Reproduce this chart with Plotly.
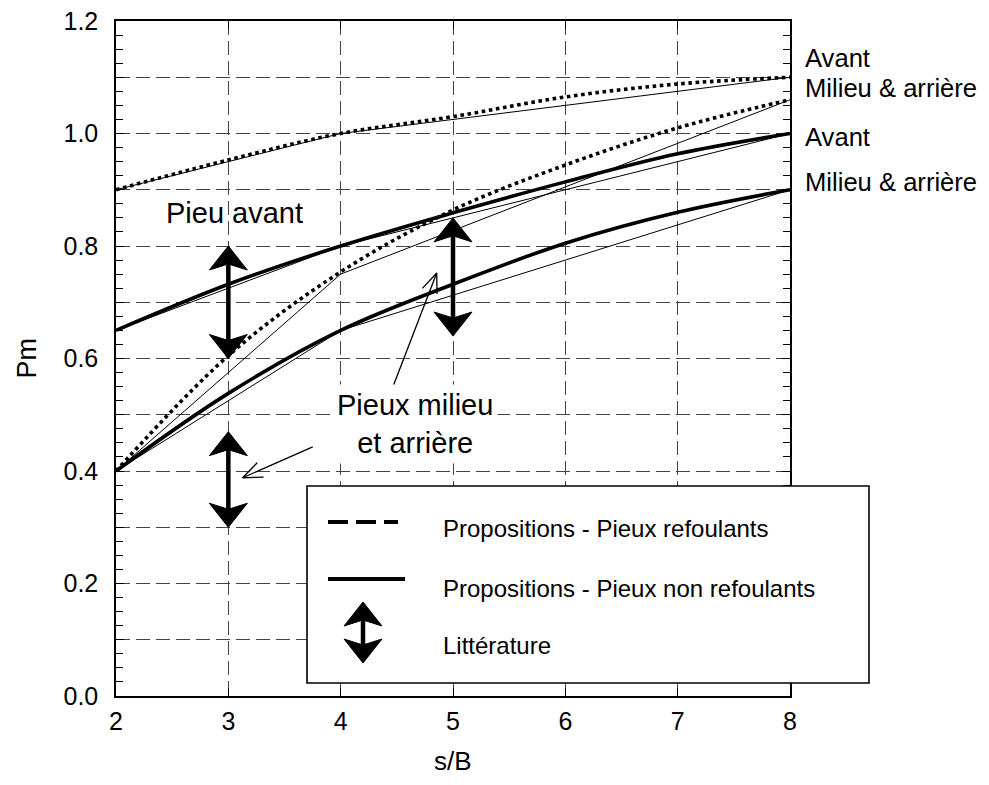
import math
import plotly.graph_objects as go

# ---------------- data ----------------
sB = [2, 3, 4, 5, 6, 7, 8]
pm_refoulant_avant = [0.90, 0.953, 1.00, 1.03, 1.065, 1.088, 1.10]
pm_refoulant_milieu = [0.40, 0.605, 0.754, 0.864, 0.944, 1.01, 1.06]
pm_nonref_avant = [0.65, 0.732, 0.80, 0.859, 0.914, 0.964, 1.00]
pm_nonref_milieu = [0.40, 0.538, 0.65, 0.732, 0.805, 0.86, 0.90]

sB_lin = [2, 4, 8]
lin_refoulant_avant = [0.90, 1.00, 1.10]
lin_refoulant_milieu = [0.40, 0.75, 1.06]
lin_nonref_avant = [0.65, 0.80, 1.00]
lin_nonref_milieu = [0.40, 0.65, 0.90]

# literature ranges (double arrows)
lit_sB = [3, 5, 3]
lit_low = [0.60, 0.64, 0.30]
lit_high = [0.80, 0.85, 0.47]

# pointer arrows from the text "Pieux milieu et arrière"
ptr_tail_x = [4.437, 3.751]
ptr_tail_y = [0.535, 0.443]
ptr_tip_x = [4.855, 3.127]
ptr_tip_y = [0.752, 0.388]

right_labels = ["Avant", "Milieu & arrière", "Avant", "Milieu & arrière"]
right_label_y = [1.134, 1.081, 0.994, 0.914]

legend_labels = ["Propositions - Pieux refoulants",
                 "Propositions - Pieux non refoulants",
                 "Littérature"]

x_ticks = [2, 3, 4, 5, 6, 7, 8]
y_ticks = [round(0.1 * i, 1) for i in range(13)]
y_ticktext = [f"{v:.1f}" if i % 2 == 0 else "" for i, v in enumerate(y_ticks)]

# ---------------- layout constants ----------------
OX, OY = 8, 8            # page (body) offset of the figure
W, H = 989 - 2 * OX, 785 - 2 * OY
PL, PT = 116, 21         # plot-area top-left on screen
PW, PH = 674, 675
ML, MT = PL - OX, PT - OY
MR, MB = W - ML - PW, H - MT - PH
XR, YR = [2, 8], [0, 1.2]
kx = PW / (XR[1] - XR[0])
ky = PH / (YR[1] - YR[0])
FONT = "Liberation Sans, Arial, Helvetica, sans-serif"


def pxp(sx):
    return (sx - PL) / PW


def pyp(sy):
    return (PT + PH - sy) / PH


HL, HW, NOTCH = 24, 19, 6

fig = go.Figure()

# thin piecewise lines
for ys in [lin_refoulant_avant, lin_refoulant_milieu, lin_nonref_avant, lin_nonref_milieu]:
    fig.add_trace(go.Scatter(x=sB_lin, y=ys, mode="lines",
                             line=dict(color="black", width=1), hoverinfo="skip"))

# thick dotted (refoulants)
for ys in [pm_refoulant_avant, pm_refoulant_milieu]:
    fig.add_trace(go.Scatter(x=sB, y=ys, mode="lines",
                             line=dict(color="black", width=3.6, dash="dot", shape="spline"),
                             hoverinfo="skip"))
# thick solid (non refoulants)
for ys in [pm_nonref_avant, pm_nonref_milieu]:
    fig.add_trace(go.Scatter(x=sB, y=ys, mode="lines",
                             line=dict(color="black", width=3.6, shape="spline"),
                             hoverinfo="skip"))

# literature double arrows
hl, hw, n = HL / ky, HW / kx, NOTCH / ky
for x, y0, y1 in zip(lit_sB, lit_low, lit_high):
    fig.add_trace(go.Scatter(x=[x, x], y=[y0 + hl - n, y1 - hl + n], mode="lines",
                             line=dict(color="black", width=4.5), hoverinfo="skip"))
    fig.add_trace(go.Scatter(x=[x, x - hw, x, x + hw, x],
                             y=[y1, y1 - hl, y1 - hl + n, y1 - hl, y1],
                             mode="lines", fill="toself", fillcolor="black",
                             line=dict(color="black", width=1), hoverinfo="skip"))
    fig.add_trace(go.Scatter(x=[x, x - hw, x, x + hw, x],
                             y=[y0, y0 + hl, y0 + hl - n, y0 + hl, y0],
                             mode="lines", fill="toself", fillcolor="black",
                             line=dict(color="black", width=1), hoverinfo="skip"))

# pointer arrows (thin, open head)
AL, ANG = 21, math.radians(22)
for tx, ty, hx, hy in zip(ptr_tail_x, ptr_tail_y, ptr_tip_x, ptr_tip_y):
    dx, dy = (hx - tx) * kx, (hy - ty) * ky
    L = math.hypot(dx, dy)
    ux, uy = -dx / L, -dy / L
    xs, ys = [tx, hx, None], [ty, hy, None]
    for s in (1, -1):
        c, si = math.cos(s * ANG), math.sin(s * ANG)
        bx = ux * c - uy * si
        by = ux * si + uy * c
        xs += [hx + AL * bx / kx]
        ys += [hy + AL * by / ky]
        if s == 1:
            xs += [hx]
            ys += [hy]
    fig.add_trace(go.Scatter(x=xs, y=ys, mode="lines",
                             line=dict(color="black", width=1.3), hoverinfo="skip"))

# ---------------- legend box (drawn) ----------------
shapes = []
shapes.append(dict(type="rect", xref="paper", yref="paper",
                   x0=pxp(307), x1=pxp(869), y0=pyp(683), y1=pyp(486),
                   line=dict(color="black", width=1.6), fillcolor="white", layer="above"))
shapes.append(dict(type="line", xref="paper", yref="paper",
                   x0=pxp(328), x1=pxp(398), y0=pyp(522), y1=pyp(522),
                   line=dict(color="black", width=4, dash="20px,8px"), layer="above"))
shapes.append(dict(type="line", xref="paper", yref="paper",
                   x0=pxp(328), x1=pxp(405), y0=pyp(579), y1=pyp(579),
                   line=dict(color="black", width=4), layer="above"))
ax_, at, ab = 363, 602, 663
shapes.append(dict(type="line", xref="paper", yref="paper",
                   x0=pxp(ax_), x1=pxp(ax_), y0=pyp(at + HL - NOTCH), y1=pyp(ab - HL + NOTCH),
                   line=dict(color="black", width=4.5), layer="above"))
for tip, sgn in ((at, 1), (ab, -1)):
    path = (f"M{pxp(ax_)},{pyp(tip)} L{pxp(ax_ - HW)},{pyp(tip + sgn * HL)} "
            f"L{pxp(ax_)},{pyp(tip + sgn * (HL - NOTCH))} L{pxp(ax_ + HW)},{pyp(tip + sgn * HL)} Z")
    shapes.append(dict(type="path", xref="paper", yref="paper", path=path,
                       fillcolor="black", line=dict(color="black", width=1), layer="above"))

annotations = []
for lab, py in zip(legend_labels, [528, 588, 645]):
    annotations.append(dict(text=lab, xref="paper", yref="paper", x=pxp(441), y=pyp(py),
                            xanchor="left", yanchor="middle", showarrow=False,
                            font=dict(size=24, color="black", family=FONT)))

for lab, yv in zip(right_labels, right_label_y):
    annotations.append(dict(text=lab, xref="x", yref="y", x=8, y=yv, xshift=13,
                            xanchor="left", yanchor="middle", showarrow=False,
                            font=dict(size=25.6, color="black", family=FONT)))

annotations.append(dict(text="Pieu avant", xref="x", yref="y", x=3.059, y=0.859,
                        showarrow=False, font=dict(size=29, color="black", family=FONT)))
annotations.append(dict(text="Pieux milieu<br>et arrière", xref="x", yref="y", x=4.662, y=0.484,
                        showarrow=False, align="center", bgcolor="white", borderpad=4,
                        font=dict(size=29, color="black", family=FONT)))

annotations.append(dict(text="s/B", xref="paper", yref="paper", x=0.5, y=pyp(761),
                        xanchor="center", yanchor="middle", showarrow=False,
                        font=dict(size=26, color="black", family=FONT)))
annotations.append(dict(text="Pm", xref="paper", yref="paper", x=pxp(26), y=0.5,
                        xanchor="center", yanchor="middle", showarrow=False, textangle=-90,
                        font=dict(size=27, color="black", family=FONT)))

fig.update_layout(
    width=W, height=H,
    margin=dict(l=ML, r=MR, t=MT, b=MB, pad=0, autoexpand=False),
    paper_bgcolor="white", plot_bgcolor="white",
    showlegend=False,
    shapes=shapes, annotations=annotations,
    font=dict(family=FONT, color="black"),
    xaxis=dict(range=XR, tickmode="array", tickvals=x_ticks, automargin=False,
               ticks="inside", ticklen=8, tickcolor="black", tickwidth=1,
               showgrid=True, gridcolor="#444444", gridwidth=1, griddash="14px,6px",
               showline=True, linecolor="black", linewidth=1.5, mirror="ticks",
               zeroline=False, tickfont=dict(size=25, color="black", family=FONT),
               ticklabelstandoff=2, ticklabeloverflow="allow"),
    yaxis=dict(range=YR, tickmode="array", tickvals=y_ticks, ticktext=y_ticktext,
               automargin=False,
               ticks="inside", ticklen=8, tickcolor="black", tickwidth=1,
               minor=dict(tickmode="linear", tick0=0, dtick=0.025, ticks="inside",
                          ticklen=7, tickcolor="black", showgrid=False),
               showgrid=True, gridcolor="#444444", gridwidth=1, griddash="14px,6px",
               showline=True, linecolor="black", linewidth=1.5, mirror="ticks",
               zeroline=False, tickfont=dict(size=25, color="black", family=FONT),
               ticklabelstandoff=11, ticklabeloverflow="allow"),
)

fig.write_html("out.html")
